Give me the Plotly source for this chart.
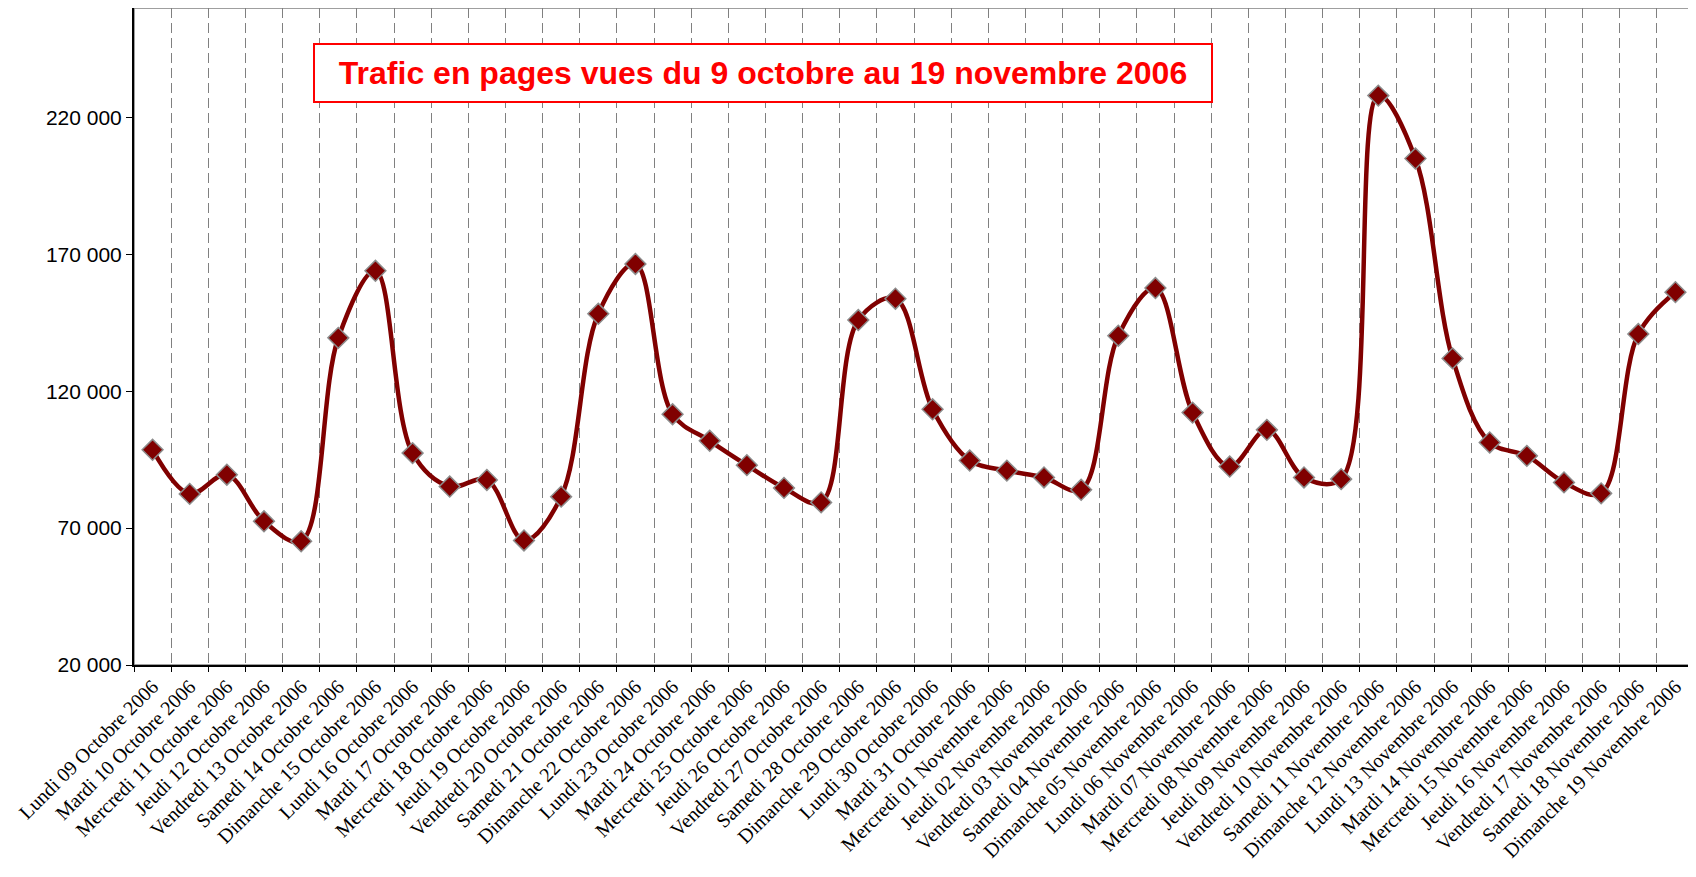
import plotly.graph_objects as go

# Trafic en pages vues, 9 octobre -> 19 novembre 2006

jours = ["Lundi", "Mardi", "Mercredi", "Jeudi", "Vendredi", "Samedi", "Dimanche"]

dates_oct = ["09", "10", "11", "12", "13", "14", "15", "16", "17", "18", "19", "20",
             "21", "22", "23", "24", "25", "26", "27", "28", "29", "30", "31"]
dates_nov = ["01", "02", "03", "04", "05", "06", "07", "08", "09", "10",
             "11", "12", "13", "14", "15", "16", "17", "18", "19"]

labels = []
k = 0
for d in dates_oct:
    labels.append(jours[k % 7] + " " + d + " Octobre 2006")
    k += 1
for d in dates_nov:
    labels.append(jours[k % 7] + " " + d + " Novembre 2006")
    k += 1

pages_vues = [98600, 82500, 89500, 72500, 65200, 139500, 164000,
              97400, 85200, 87600, 65500, 81500, 148300, 166500,
              111600, 101900, 93000, 84700, 79400, 146000, 153800,
              113400, 94700, 91000, 88500, 84000, 140300, 157700,
              112200, 92500, 105900, 88500, 87900, 228000, 205000,
              132000, 101300, 96400, 86700, 82700, 140900, 156200]

y_ticks = [20000, 70000, 120000, 170000, 220000]

fig = go.Figure()

fig.add_trace(go.Scatter(
    x=labels, y=pages_vues,
    mode="lines+markers",
    line=dict(color="#800000", width=4.5, shape="spline", smoothing=1),
    marker=dict(symbol="diamond", size=16, color="#800000",
                line=dict(color="#8c8c8c", width=1.5)),
    showlegend=False))

fig.update_xaxes(
    type="category", tickson="boundaries",
    showgrid=True, gridcolor="#808080", gridwidth=1, griddash="10px,5px",
    showline=True, linecolor="black", linewidth=2,
    ticks="outside", ticklen=5, tickcolor="black",
    tickangle=-45,
    tickfont=dict(family="Liberation Serif", size=20, color="black"),
    range=[-0.5, len(labels) - 0.5])

fig.update_yaxes(
    range=[20000, 260000], tickvals=y_ticks, tickformat=",d",
    showgrid=False, zeroline=False,
    showline=True, linecolor="black", linewidth=2,
    ticks="outside", ticklen=6, tickcolor="black",
    tickfont=dict(family="Liberation Sans", size=21, color="black"))

# cadre gris haut / droite
fig.add_shape(type="rect", xref="paper", yref="paper", x0=0, x1=1, y0=0, y1=1,
              line=dict(color="#808080", width=1.5), layer="below")

fig.add_annotation(
    xref="paper", yref="paper", x=0.4035, y=0.901,
    xanchor="center", yanchor="middle",
    text="<b>Trafic en pages vues du 9 octobre au 19 novembre 2006</b>",
    showarrow=False, font=dict(family="Liberation Sans", size=32, color="#ff0000"),
    bgcolor="white", bordercolor="#ff0000", borderwidth=2, borderpad=0,
    width=896, height=56, align="center")

# la page a une marge de 8 px : figure un peu plus petite
fig.update_layout(
    width=1688, height=869,
    margin=dict(l=126, r=2, t=0, b=212),
    plot_bgcolor="white", paper_bgcolor="white",
    separators=", ")

fig.write_html("out.html")
